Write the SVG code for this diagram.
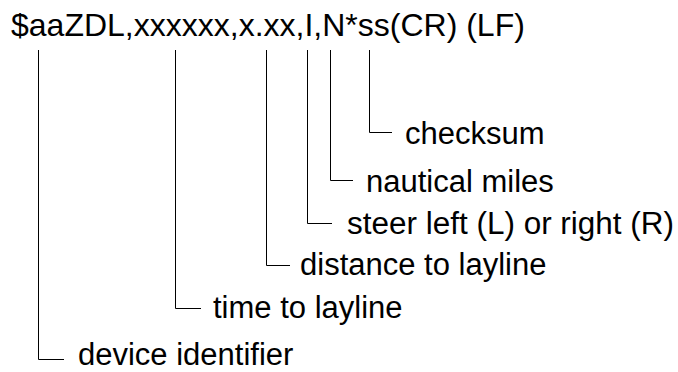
<svg xmlns="http://www.w3.org/2000/svg" width="678" height="372" viewBox="0 0 678 372">
<style>
text{font-family:"Liberation Sans",Arial,sans-serif;fill:#000}
.t{font-size:32px}
.l{font-size:31px}
.c{fill:none;stroke:#000;stroke-width:1}
</style>
<rect width="678" height="372" fill="#fff"/>
<g id="title"><text class="t" x="11" y="36">$aaZDL,xxxxxx,x.xx,I,N*ss(CR) (LF)</text></g>
<g id="connectors">
<path class="c" d="M38.5 50V359.5H64"/>
<path class="c" d="M175.5 50V308.5H201"/>
<path class="c" d="M266.5 50V265.5H290"/>
<path class="c" d="M307.5 50V223.5H332"/>
<path class="c" d="M330.5 50V180.5H353"/>
<path class="c" d="M369.5 50V132.5H392"/>
</g>
<g id="checksum"><text class="l" x="405" y="144">checksum</text></g>
<g id="nautical"><text class="l" x="366" y="192">nautical miles</text></g>
<g id="steer"><text class="l" x="347" y="234" textLength="327" lengthAdjust="spacingAndGlyphs">steer left (L) or right (R)</text></g>
<g id="distance"><text class="l" x="300" y="275">distance to layline</text></g>
<g id="time"><text class="l" x="213" y="318">time to layline</text></g>
<g id="device"><text class="l" x="78" y="365">device identifier</text></g>
</svg>
